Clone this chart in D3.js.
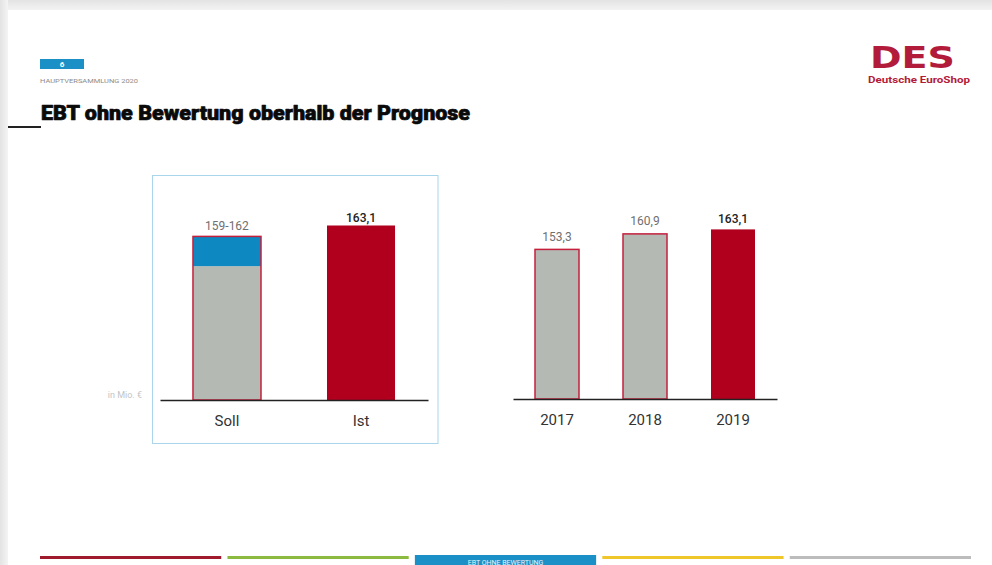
<!DOCTYPE html>
<html>
<head>
<meta charset="utf-8">
<script src="https://cdn.jsdelivr.net/npm/d3@7/dist/d3.min.js"></script>
<style>
  html, body { margin: 0; padding: 0; background: #fff; }
  svg { display: block; font-family: Roboto, "Noto Sans", sans-serif; }
</style>
</head>
<body>
<svg id="slide" width="992" height="565"></svg>
<script>
// EBT excluding valuation, in € million
const planCategories = ["Soll", "Ist"];
const planLow = 159;          // lower end of the forecast range
const planHigh = 162;         // upper end of the forecast range
const actualValue = 163.1;
const planLabels = ["159-162", "163,1"];

const years = ["2017", "2018", "2019"];
const yearValues = [153.3, 160.9, 163.1];
const yearLabels = ["153,3", "160,9", "163,1"];

const footerSections = ["", "", "EBT OHNE BEWERTUNG", "", ""];

const RED = "#b0001e";
const GREY = "#b4b9b4";
const BLUE = "#0d88c0";

const svg = d3.select("#slide");
const defs = svg.append("defs");

// slide frame shading
const gTop = defs.append("linearGradient").attr("id", "shadeTop").attr("x1", 0).attr("y1", 0).attr("x2", 0).attr("y2", 1);
gTop.append("stop").attr("offset", "0%").attr("stop-color", "#e3e3e3");
gTop.append("stop").attr("offset", "100%").attr("stop-color", "#f3f3f3");
const gLeft = defs.append("linearGradient").attr("id", "shadeLeft").attr("x1", 0).attr("y1", 0).attr("x2", 1).attr("y2", 0);
gLeft.append("stop").attr("offset", "0%").attr("stop-color", "#e3e3e3");
gLeft.append("stop").attr("offset", "100%").attr("stop-color", "#f4f4f4");

svg.append("rect").attr("x", 0).attr("y", 0).attr("width", 992).attr("height", 10).attr("fill", "url(#shadeTop)");
svg.append("rect").attr("x", 0).attr("y", 0).attr("width", 8).attr("height", 565).attr("fill", "url(#shadeLeft)");

// header: page number tag, meeting caption, title
svg.append("rect").attr("x", 40).attr("y", 59).attr("width", 44).attr("height", 10).attr("fill", "#1b90c6");
svg.append("text").attr("x", 62).attr("y", 67).attr("text-anchor", "middle")
  .attr("font-size", 8).attr("font-weight", 700).attr("fill", "#fff").text("6");
svg.append("text").attr("x", 40).attr("y", 82.5).attr("font-size", 5.5).attr("fill", "#8a8a8a")
  .attr("textLength", 98).attr("lengthAdjust", "spacingAndGlyphs").text("HAUPTVERSAMMLUNG 2020");
svg.append("text").attr("x", 41).attr("y", 120).attr("font-size", 20.5).attr("font-weight", 900).attr("fill", "#0a0a0a")
  .attr("stroke", "#0a0a0a").attr("stroke-width", 0.7).attr("stroke-linejoin", "round")
  .attr("textLength", 429).attr("lengthAdjust", "spacingAndGlyphs")
  .text("EBT ohne Bewertung oberhalb der Prognose");
svg.append("line").attr("x1", 8).attr("x2", 41).attr("y1", 127).attr("y2", 127)
  .attr("stroke", "#222").attr("stroke-width", 2);

// logo
svg.append("text").attr("x", 870).attr("y", 68).attr("font-size", 30).attr("font-weight", 700)
  .attr("fill", "#b31b3b").attr("textLength", 85).attr("lengthAdjust", "spacingAndGlyphs")
  .attr("font-family", "'DejaVu Sans', sans-serif").text("DES");
svg.append("text").attr("x", 868).attr("y", 83).attr("font-size", 9).attr("font-weight", 700)
  .attr("fill", "#b31b3b").attr("textLength", 102).attr("lengthAdjust", "spacingAndGlyphs")
  .text("Deutsche EuroShop");

// ---- left panel: forecast vs. actual ----
svg.append("rect").attr("x", 152.5).attr("y", 175.5).attr("width", 285.5).attr("height", 268)
  .attr("fill", "none").attr("stroke", "#a9d6ea").attr("stroke-width", 1);

const xPlan = d3.scaleBand().domain(planCategories).range([160, 428]).paddingInner(0.4925).paddingOuter(0.246);
const yPlan = d3.scaleLinear().domain([145.5, 163.1]).range([400, 225.5]);

const left = svg.append("g");
// Soll: grey base up to the low end, blue band for the forecast range
left.append("rect").attr("x", xPlan("Soll")).attr("width", xPlan.bandwidth())
  .attr("y", yPlan(planLow)).attr("height", yPlan.range()[0] - yPlan(planLow)).attr("fill", GREY);
left.append("rect").attr("x", xPlan("Soll")).attr("width", xPlan.bandwidth())
  .attr("y", yPlan(planHigh)).attr("height", yPlan(planLow) - yPlan(planHigh)).attr("fill", BLUE);
left.append("rect").attr("x", xPlan("Soll")).attr("width", xPlan.bandwidth())
  .attr("y", yPlan(planHigh)).attr("height", yPlan.range()[0] - yPlan(planHigh))
  .attr("fill", "none").attr("stroke", "#c4203c").attr("stroke-width", 1.5);
// Ist
left.append("rect").attr("x", xPlan("Ist")).attr("width", xPlan.bandwidth())
  .attr("y", yPlan(actualValue)).attr("height", yPlan.range()[0] - yPlan(actualValue)).attr("fill", RED);

left.selectAll("text.val").data([planHigh, actualValue]).join("text")
  .attr("class", "val")
  .attr("x", (d, i) => xPlan(planCategories[i]) + xPlan.bandwidth() / 2)
  .attr("y", (d, i) => yPlan(d) - (i === 0 ? 6.5 : 3.5))
  .attr("text-anchor", "middle").attr("font-size", 12)
  .attr("font-weight", (d, i) => i === 1 ? 500 : 400)
  .attr("fill", (d, i) => i === 1 ? "#222" : "#707070")
  .text((d, i) => planLabels[i]);

const axPlan = left.append("g").attr("transform", "translate(0,400)")
  .call(d3.axisBottom(xPlan).tickSize(0).tickSizeOuter(0).tickPadding(15));
axPlan.select(".domain").attr("stroke", "#222").attr("stroke-width", 1.5);
axPlan.selectAll("text").attr("font-size", 15).attr("fill", "#333")
  .attr("font-family", "Roboto, sans-serif");

svg.append("text").attr("x", 142).attr("y", 398).attr("text-anchor", "end")
  .attr("font-size", 9).attr("fill", "#c4c4c4").text("in Mio. €");

// ---- right panel: three-year history ----
const xYear = d3.scaleBand().domain(years).range([513, 777]).paddingInner(0.5).paddingOuter(0.25);
const yYear = d3.scaleLinear().domain([80, 163.1]).range([399, 229.4]);

const right = svg.append("g");
right.selectAll("rect.bar").data(yearValues).join("rect")
  .attr("class", "bar")
  .attr("x", (d, i) => xYear(years[i]))
  .attr("width", xYear.bandwidth())
  .attr("y", d => yYear(d))
  .attr("height", d => yYear.range()[0] - yYear(d))
  .attr("fill", (d, i) => i === years.length - 1 ? RED : GREY)
  .attr("stroke", (d, i) => i === years.length - 1 ? "none" : "#c4203c")
  .attr("stroke-width", 1.5);

right.selectAll("text.val").data(yearValues).join("text")
  .attr("class", "val")
  .attr("x", (d, i) => xYear(years[i]) + xYear.bandwidth() / 2)
  .attr("y", (d, i) => yYear(d) - (i === years.length - 1 ? 6 : 8.5))
  .attr("text-anchor", "middle").attr("font-size", 12)
  .attr("font-weight", (d, i) => i === years.length - 1 ? 500 : 400)
  .attr("fill", (d, i) => i === years.length - 1 ? "#222" : "#707070")
  .text((d, i) => yearLabels[i]);

const axYear = right.append("g").attr("transform", "translate(0,399)")
  .call(d3.axisBottom(xYear).tickSize(0).tickSizeOuter(0).tickPadding(15));
axYear.select(".domain").attr("stroke", "#222").attr("stroke-width", 1.5);
axYear.selectAll("text").attr("font-size", 15).attr("fill", "#333")
  .attr("font-family", "Roboto, sans-serif");

// ---- footer navigation ----
const footerColors = ["#a01a2e", "#8cba3e", "#1b90c6", "#efc72a", "#bcbcbc"];
const xFooter = d3.scaleBand().domain(d3.range(footerSections.length)).range([40, 971]).paddingInner(0.033);
const foot = svg.append("g");
foot.selectAll("rect").data(footerSections).join("rect")
  .attr("x", (d, i) => xFooter(i))
  .attr("width", xFooter.bandwidth())
  .attr("y", d => d ? 555 : 556)
  .attr("height", d => d ? 10 : 3)
  .attr("fill", (d, i) => footerColors[i]);
foot.selectAll("text").data(footerSections.filter(d => d)).join("text")
  .attr("x", xFooter(footerSections.indexOf(footerSections.find(d => d))) + xFooter.bandwidth() / 2)
  .attr("y", 564.5).attr("text-anchor", "middle").attr("font-size", 7).attr("fill", "#e8f4fa")
  .text(d => d);
</script>
</body>
</html>
